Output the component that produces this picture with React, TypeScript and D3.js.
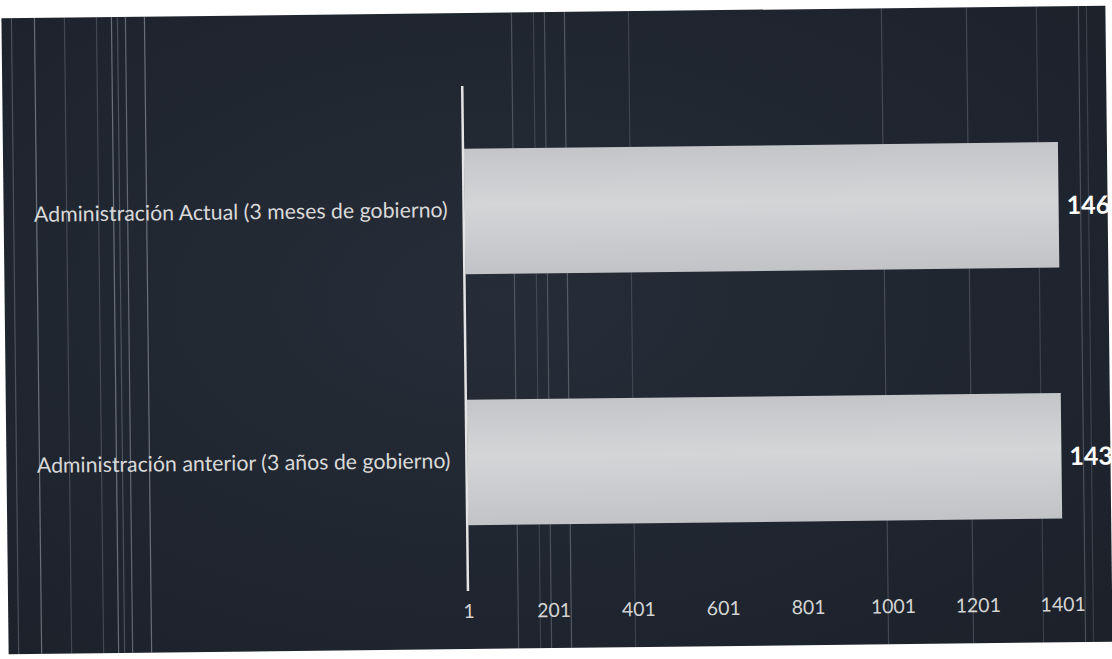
import React from "react";
import * as d3 from "d3";

const categories = [
  "Administración Actual (3 meses de gobierno)",
  "Administración anterior (3 años de gobierno)",
];
const values = [1460, 1430];
const valueLabels = ["146", "143"];
const tickValues = [1, 201, 401, 601, 801, 1001, 1201, 1401];

const W = 1112;
const H = 659;

export default function App() {
  const x = d3.scaleLinear().domain([1, 1401]).range([466, 1060]).clamp(true);
  const y = d3
    .scaleBand<string>()
    .domain(categories)
    .range([85, 587])
    .paddingInner(0.5)
    .paddingOuter(0.25);

  // faint vertical streaks of the scanned page
  const streaks = [
    { x: 15, o: 0.3 },
    { x: 38, o: 0.5 },
    { x: 68, o: 0.25 },
    { x: 100, o: 0.25 },
    { x: 115, o: 0.5 },
    { x: 121, o: 0.3 },
    { x: 129, o: 0.45 },
    { x: 148, o: 0.5 },
    { x: 515, o: 0.3 },
    { x: 537, o: 0.2 },
    { x: 548, o: 0.3 },
    { x: 568, o: 0.35 },
    { x: 632, o: 0.2 },
    { x: 885, o: 0.25 },
    { x: 970, o: 0.25 },
    { x: 1040, o: 0.2 },
    { x: 1082, o: 0.3 },
    { x: 1090, o: 0.2 },
  ];

  return (
    <svg
      width={W}
      height={H}
      style={{ position: "absolute", left: 0, top: 0, display: "block" }}
      fontFamily="Lato, 'Open Sans', sans-serif"
    >
      <defs>
        <linearGradient id="barGrad" x1="0" y1="0" x2="0" y2="1">
          <stop offset="0%" stopColor="#c4c5c8" />
          <stop offset="45%" stopColor="#d4d5d7" />
          <stop offset="100%" stopColor="#c2c3c7" />
        </linearGradient>
        <radialGradient id="bgGrad" cx="0.45" cy="0.45" r="0.8">
          <stop offset="0%" stopColor="#262d38" />
          <stop offset="100%" stopColor="#1b2029" />
        </radialGradient>
      </defs>
      <rect x={0} y={0} width={W} height={H} fill="#ffffff" />
      <g transform={`rotate(-0.65 556 330)`}>
        <rect x={5} y={12} width={1104} height={636} fill="url(#bgGrad)" />
        {streaks.map((s, i) => (
          <line
            key={i}
            x1={s.x}
            x2={s.x}
            y1={12}
            y2={648}
            stroke="#b4b9c2"
            strokeOpacity={s.o}
            strokeWidth={1.2}
          />
        ))}
        {categories.map((c, i) => (
          <rect
            key={c}
            x={x(1)}
            y={y(c)!}
            width={x(values[i]) - x(1)}
            height={y.bandwidth()}
            fill="url(#barGrad)"
          />
        ))}
        <line x1={x(1) - 1} x2={x(1) - 1} y1={85} y2={590} stroke="#e4e4e4" strokeWidth={2.5} />
        {categories.map((c) => (
          <text
            key={c}
            x={449}
            y={y(c)! + y.bandwidth() / 2}
            textAnchor="end"
            dominantBaseline="middle"
            fontSize={21.3}
            fill="#d9d9d9"
          >
            {c}
          </text>
        ))}
        {categories.map((c, i) => (
          <text
            key={c + "v"}
            x={x(values[i]) + 8}
            y={y(c)! + y.bandwidth() / 2 + 3}
            dominantBaseline="middle"
            fontSize={25}
            fontWeight="bold"
            fill="#ffffff"
          >
            {valueLabels[i]}
          </text>
        ))}
        {tickValues.map((t) => (
          <text
            key={t}
            x={x(t)}
            y={612}
            textAnchor="middle"
            dominantBaseline="middle"
            fontSize={19.5}
            fill="#d4d4d4"
          >
            {t}
          </text>
        ))}
      </g>
    </svg>
  );
}
